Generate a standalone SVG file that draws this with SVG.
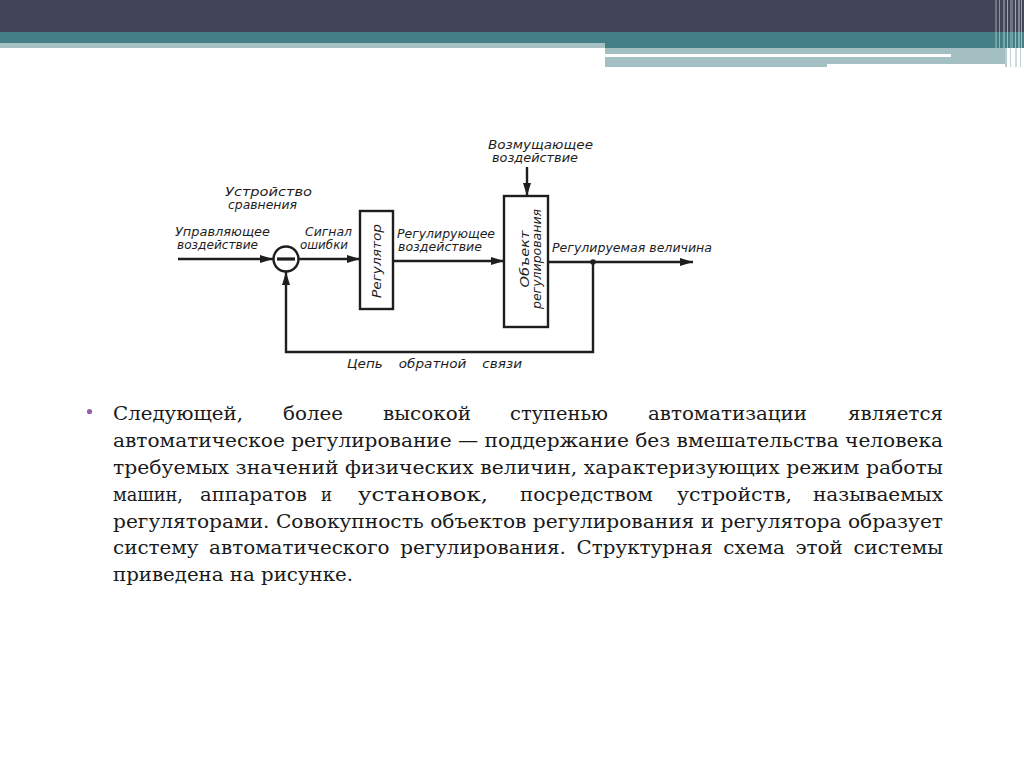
<svg xmlns="http://www.w3.org/2000/svg" width="1024" height="767" viewBox="0 0 1024 767">
<style>
.ln{fill:none;stroke:#1e1e1e;stroke-width:2.4}
.bx{fill:#fff;stroke:#1e1e1e;stroke-width:2.4}
.lb{font-family:"DejaVu Sans Condensed","DejaVu Sans",sans-serif;font-style:oblique;font-size:13px;fill:#1e1e1e}
.bt{font-family:"DejaVu Serif","Liberation Serif",serif;font-size:18.5px;fill:#1a1a1a}
</style>
<defs>
<marker id="ar" markerUnits="userSpaceOnUse" markerWidth="13" markerHeight="8" refX="13" refY="4" orient="auto">
<path d="M0,0 L13,4 L0,8 Z" fill="#1e1e1e"/>
</marker>
</defs>
<rect width="1024" height="767" fill="#fff"/>
<g id="header">
<rect x="0" y="0" width="1024" height="32" fill="#424457"/>
<rect x="0" y="32" width="1024" height="16" fill="#437f84"/>
<rect x="0" y="43" width="605" height="5" fill="#a6c0c3"/>
<rect x="605" y="48" width="400" height="19" fill="#a4bfc2"/>
<rect x="605" y="54" width="346" height="3" fill="#fff"/>
<rect x="827" y="64" width="178" height="3" fill="#fff"/>
<g fill="#fff">
<rect x="995" y="0" width="2" height="48" opacity="0.25"/>
<rect x="999" y="0" width="1" height="48" opacity="0.4"/>
<rect x="1003" y="0" width="2" height="48" opacity="0.3"/>
<rect x="1007" y="0" width="1" height="48" opacity="0.5"/>
<rect x="1010" y="0" width="3" height="48" opacity="0.25"/>
<rect x="1015" y="0" width="1" height="48" opacity="0.5"/>
<rect x="1018" y="0" width="2" height="48" opacity="0.35"/>
<rect x="1021" y="0" width="1" height="48" opacity="0.5"/>
</g>
<g fill="#8ea7ab">
<rect x="1005" y="48" width="2" height="19" opacity="0.6"/>
<rect x="1010" y="48" width="1" height="19" opacity="0.5"/>
<rect x="1015" y="48" width="2" height="19" opacity="0.4"/>
<rect x="1020" y="48" width="1" height="19" opacity="0.5"/>
</g>
</g>
<g id="connectors">
<line class="ln" x1="178" y1="259" x2="273" y2="259" marker-end="url(#ar)"/>
<line class="ln" x1="299" y1="259" x2="360" y2="259" marker-end="url(#ar)"/>
<line class="ln" x1="393" y1="261" x2="504" y2="261" marker-end="url(#ar)"/>
<line class="ln" x1="527" y1="167" x2="527" y2="196" marker-end="url(#ar)"/>
<line class="ln" x1="548" y1="262" x2="693" y2="262" marker-end="url(#ar)"/>
<polyline class="ln" points="593,262 593,352 286,352 286,272" marker-end="url(#ar)"/>
<circle cx="593" cy="262" r="2.8" fill="#1e1e1e"/>
</g>
<g id="comparator">
<circle class="bx" cx="286" cy="259" r="12.5"/>
<line x1="277" y1="259" x2="295" y2="259" stroke="#1e1e1e" stroke-width="3.2"/>
</g>
<g id="regulator">
<rect class="bx" x="360" y="211" width="33" height="98"/>
<text class="lb" transform="translate(381,298) rotate(-90)" textLength="74" lengthAdjust="spacingAndGlyphs">Регулятор</text>
</g>
<g id="object">
<rect class="bx" x="504" y="196" width="44" height="131"/>
<text class="lb" text-anchor="middle" transform="translate(529,259) rotate(-90)" textLength="57" lengthAdjust="spacingAndGlyphs">Объект</text>
<text class="lb" text-anchor="middle" transform="translate(541,259) rotate(-90)" textLength="100" lengthAdjust="spacingAndGlyphs">регулирования</text>
</g>
<g id="labels">
<text class="lb" x="225" y="196" textLength="87" lengthAdjust="spacingAndGlyphs">Устройство</text>
<text class="lb" x="228" y="209" textLength="69" lengthAdjust="spacingAndGlyphs">сравнения</text>
<text class="lb" x="175" y="236" textLength="95" lengthAdjust="spacingAndGlyphs">Управляющее</text>
<text class="lb" x="177" y="249" textLength="81" lengthAdjust="spacingAndGlyphs">воздействие</text>
<text class="lb" x="305" y="236" textLength="47" lengthAdjust="spacingAndGlyphs">Сигнал</text>
<text class="lb" x="300" y="249" textLength="48" lengthAdjust="spacingAndGlyphs">ошибки</text>
<text class="lb" x="397" y="238" textLength="98" lengthAdjust="spacingAndGlyphs">Регулирующее</text>
<text class="lb" x="398" y="251" textLength="84" lengthAdjust="spacingAndGlyphs">воздействие</text>
<text class="lb" x="488" y="149" textLength="105" lengthAdjust="spacingAndGlyphs">Возмущающее</text>
<text class="lb" x="492" y="162" textLength="86" lengthAdjust="spacingAndGlyphs">воздействие</text>
<text class="lb" x="552" y="252" textLength="160" lengthAdjust="spacingAndGlyphs">Регулируемая величина</text>
<text class="lb" x="347" y="368" textLength="175" lengthAdjust="spacingAndGlyphs" word-spacing="10">Цепь обратной связи</text>
</g>
<g id="body">
<circle cx="89.5" cy="411.5" r="2.6" fill="#9a5fa8"/>
<text class="bt" x="113" y="420" textLength="130" lengthAdjust="spacingAndGlyphs">Следующей,</text>
<text class="bt" x="283" y="420" textLength="60" lengthAdjust="spacingAndGlyphs">более</text>
<text class="bt" x="383" y="420" textLength="88" lengthAdjust="spacingAndGlyphs">высокой</text>
<text class="bt" x="510" y="420" textLength="98" lengthAdjust="spacingAndGlyphs">ступенью</text>
<text class="bt" x="648" y="420" textLength="159" lengthAdjust="spacingAndGlyphs">автоматизации</text>
<text class="bt" x="848" y="420" textLength="95" lengthAdjust="spacingAndGlyphs">является</text>
<text class="bt" x="113" y="447" textLength="830" lengthAdjust="spacingAndGlyphs">автоматическое регулирование — поддержание без вмешательства человека</text>
<text class="bt" x="113" y="474" textLength="830" lengthAdjust="spacingAndGlyphs">требуемых значений физических величин, характеризующих режим работы</text>
<text class="bt" x="113" y="501" textLength="70" lengthAdjust="spacingAndGlyphs">машин,</text>
<text class="bt" x="200" y="501" textLength="107" lengthAdjust="spacingAndGlyphs">аппаратов</text>
<text class="bt" x="321" y="501" textLength="11" lengthAdjust="spacingAndGlyphs">и</text>
<text class="bt" x="358" y="501" textLength="130" lengthAdjust="spacingAndGlyphs">установок,</text>
<text class="bt" x="520" y="501" textLength="133" lengthAdjust="spacingAndGlyphs">посредством</text>
<text class="bt" x="677" y="501" textLength="115" lengthAdjust="spacingAndGlyphs">устройств,</text>
<text class="bt" x="813" y="501" textLength="130" lengthAdjust="spacingAndGlyphs">называемых</text>
<text class="bt" x="113" y="528" textLength="830" lengthAdjust="spacingAndGlyphs">регуляторами. Совокупность объектов регулирования и регулятора образует</text>
<text class="bt" x="113" y="554" textLength="830" lengthAdjust="spacingAndGlyphs" word-spacing="4">систему автоматического регулирования. Структурная схема этой системы</text>
<text class="bt" x="113" y="581" textLength="240" lengthAdjust="spacingAndGlyphs">приведена на рисунке.</text>
</g>
</svg>
